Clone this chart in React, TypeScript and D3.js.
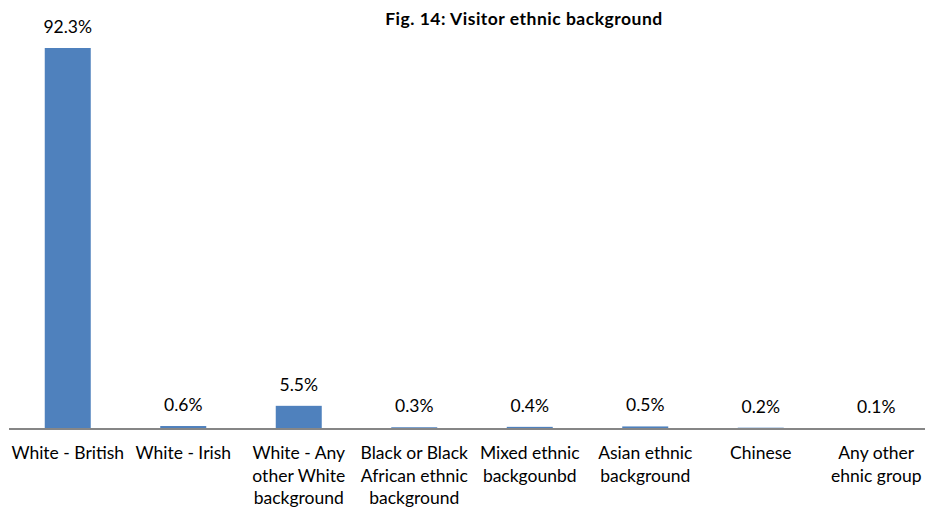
import React from "react";
import * as d3 from "d3";

const categories: string[][] = [
  ["White - British"],
  ["White - Irish"],
  ["White - Any", "other White", "background"],
  ["Black or Black", "African ethnic", "background"],
  ["Mixed ethnic", "backgounbd"],
  ["Asian ethnic", "background"],
  ["Chinese"],
  ["Any other", "ehnic group"],
];
const values: number[] = [92.3, 0.6, 5.5, 0.3, 0.4, 0.5, 0.2, 0.1];
const valueLabels: string[] = ["92.3%", "0.6%", "5.5%", "0.3%", "0.4%", "0.5%", "0.2%", "0.1%"];
const title = "Fig. 14: Visitor ethnic background";

const W = 925;
const H = 509;
const FONT = "Lato, 'Open Sans', sans-serif";

export default function App() {
  const baseY = 428.5;
  const x = d3
    .scaleBand<number>()
    .domain(d3.range(categories.length))
    .range([10, 10 + 8 * 115.5])
    .paddingInner(0.6)
    .paddingOuter(0.3);
  const y = d3.scaleLinear().domain([0, 92.3]).range([baseY, 48]);

  return (
    <svg
      width={W}
      height={H}
      style={{ position: "absolute", left: 0, top: 0, background: "#fff" }}
      fontFamily={FONT}
    >
      <text x={524} y={25} textAnchor="middle" fontSize={17.5} fontWeight="bold" fill="#000" letterSpacing={0.5}>
        {title}
      </text>
      {values.map((v, i) => {
        const cx = (x(i) as number) + x.bandwidth() / 2;
        const bw = 46;
        return (
          <g key={i}>
            <rect x={cx - bw / 2} y={y(v)} width={bw} height={baseY - y(v)} fill="#4F81BD" />
            <text x={cx} y={y(v) - 15} textAnchor="middle" fontSize={17.5} fill="#000">
              {valueLabels[i]}
            </text>
            {categories[i].map((line, j) => (
              <text key={j} x={cx} y={459 + j * 22.7} textAnchor="middle" fontSize={17.5} fill="#000">
                {line}
              </text>
            ))}
          </g>
        );
      })}
      <line x1={9} x2={W} y1={baseY + 0.5} y2={baseY + 0.5} stroke="#868686" strokeWidth={2} />
    </svg>
  );
}
